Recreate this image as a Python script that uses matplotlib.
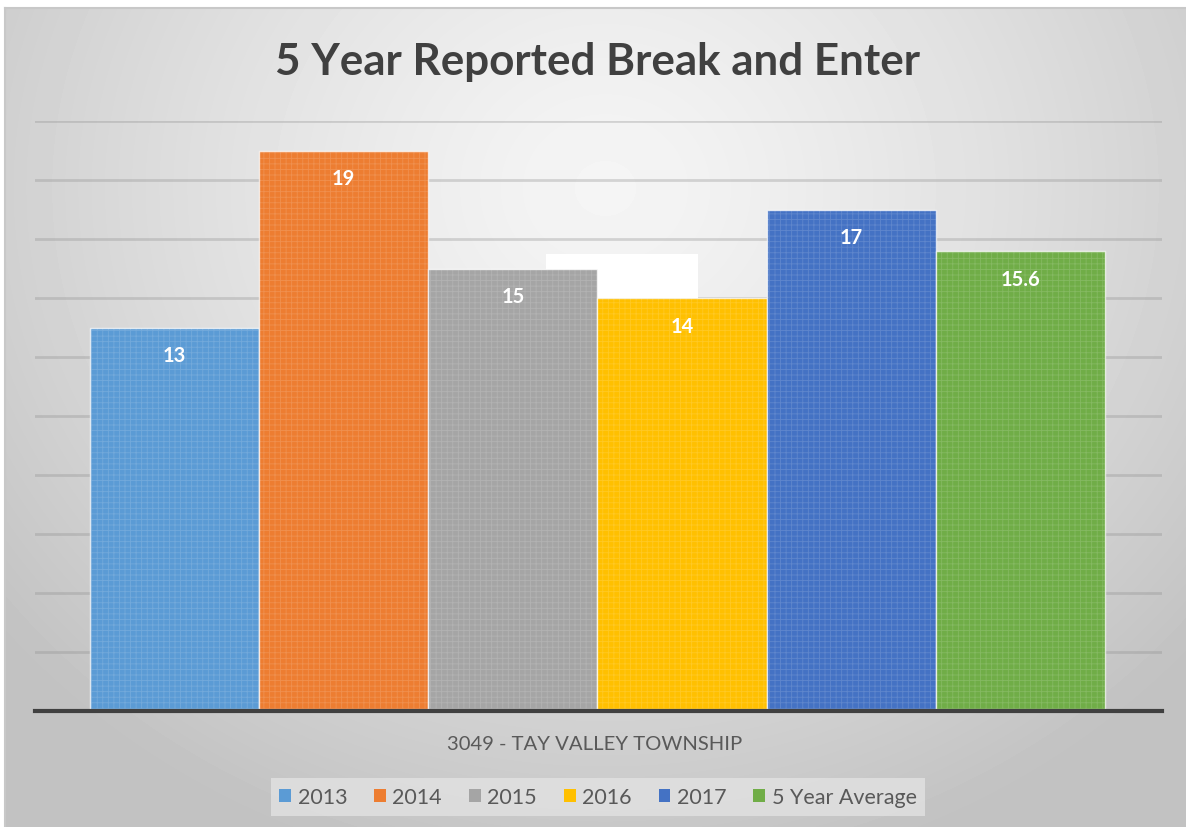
import numpy as np
import matplotlib
matplotlib.use("Agg")
import matplotlib.pyplot as plt
from matplotlib.patches import Rectangle

# data
series = ["2013", "2014", "2015", "2016", "2017", "5 Year Average"]
values = [13, 19, 15, 14, 17, 15.6]
labels = ["13", "19", "15", "14", "17", "15.6"]
colors = ["#5B9BD5", "#ED7D31", "#A5A5A5", "#FFC000", "#4472C4", "#70AD47"]
category = "3049 - TAY VALLEY TOWNSHIP"
title = "5 Year Reported Break and Enter"

plt.rcParams['font.family'] = ['Lato', 'DejaVu Sans']
plt.rcParams['hatch.linewidth'] = 0.6

W, H = 1186, 828
fig = plt.figure(figsize=(W / 100, H / 100), dpi=100)
fig.patch.set_facecolor("white")

# background gradient panel
bg = fig.add_axes([5 / W, 0, 1 - 5 / W, 1 - 9 / H])
bg.set_zorder(-5)
yy, xx = np.mgrid[0:819, 0:1181]
d = np.sqrt(((xx - 600) / 1.0) ** 2 + ((yy - 180) / 0.9) ** 2)
shade = 0.96 - 0.20 * np.clip(d / 780, 0, 1) ** 1.3
bg.imshow(shade, cmap="gray", vmin=0, vmax=1, aspect="auto",
          extent=[0, 1, 0, 1], origin="upper", interpolation="bilinear")
bg.set_xlim(0, 1)
bg.set_ylim(0, 1)
for side in ["top", "left"]:
    bg.spines[side].set_color("#c8c8c8")
    bg.spines[side].set_linewidth(1.5)
for side in ["bottom", "right"]:
    bg.spines[side].set_visible(False)
bg.set_xticks([])
bg.set_yticks([])

ax = fig.add_axes([35 / W, (H - 712) / H, (1162 - 35) / W, (712 - 122) / H])
ax.patch.set_alpha(0)
x = np.arange(len(values))
ax.set_xlim(-0.5 - 0.325, len(values) - 0.5 + 0.337)
ax.set_ylim(0, 20)
ax.set_yticks(np.arange(2, 21, 2))
ax.yaxis.grid(True, color="#8c8c8c", alpha=0.32, linewidth=2)
ax.set_axisbelow(True)
ax.tick_params(left=False, labelleft=False, bottom=False, labelbottom=False)
for side in ["top", "left", "right"]:
    ax.spines[side].set_visible(False)
ax.spines["bottom"].set_color("#404040")
ax.spines["bottom"].set_linewidth(3)
ax.spines["bottom"].set_zorder(5)

# stray white box behind the 2016 bar
ax.add_patch(Rectangle((2.195, 14), 0.9, 1.5, facecolor="white",
                       edgecolor="none", zorder=1))

ax.bar(x, values, width=1.0, color=colors, edgecolor=(1, 1, 1, 0.7),
       linewidth=1, zorder=2)
ax.bar(x, values, width=1.0, color="none", edgecolor=(1, 1, 1, 0.15),
       linewidth=0, hatch="+++", zorder=3)

for xi, v, lab in zip(x, values, labels):
    ax.annotate(lab, (xi, v), xytext=(0, -20), textcoords="offset points",
                ha="center", va="center", color="white", fontsize=14.5,
                fontweight="bold", zorder=6)

fig.text(597 / W, 1 - 62 / H, title, ha="center", va="center",
         fontsize=31.7, fontweight="bold", color="#404040")
fig.text(595 / W, 1 - 745 / H, category, ha="center", va="center",
         fontsize=14.6, color="#595959")

handles = [Rectangle((0, 0), 1, 1, facecolor=c, edgecolor="none") for c in colors]
leg = fig.legend(handles, series, loc="center", bbox_to_anchor=(598 / W, 1 - 798 / H),
                 ncol=6, frameon=True, fontsize=15.5, handlelength=0.55,
                 handleheight=0.55, handletextpad=0.3, columnspacing=1.25,
                 borderpad=0.4, fancybox=False)
leg.get_frame().set_facecolor("#e2e2e2")
leg.get_frame().set_alpha(0.8)
leg.get_frame().set_edgecolor("none")
for t in leg.get_texts():
    t.set_color("#595959")

fig.savefig("out.png", dpi=100)
